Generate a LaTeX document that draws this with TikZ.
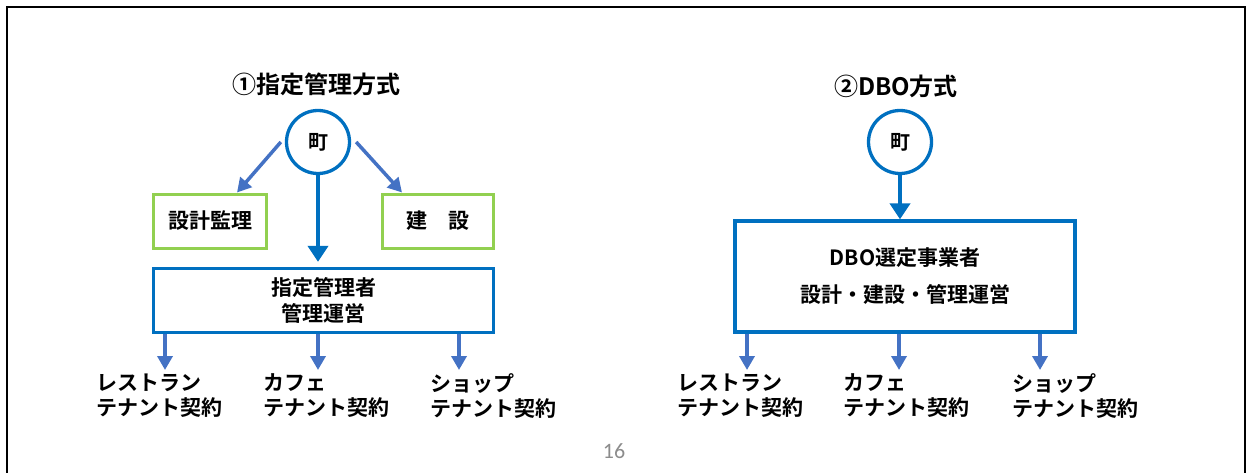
\documentclass[tikz,border=0pt]{standalone}
\usepackage{fontspec}
\setmainfont{Noto Sans CJK JP Bold}
\newfontfamily\pagenofont{Carlito}
\usetikzlibrary{arrows.meta}
\definecolor{townblue}{HTML}{0070C0}
\definecolor{arrowblue}{HTML}{4472C4}
\definecolor{boxgreen}{HTML}{92D050}
\definecolor{pagegray}{HTML}{8C8C8C}
\tikzset{
    town/.style={circle, draw=townblue, line width=3.3pt, minimum size=63pt, inner sep=0pt, font=\fontsize{20}{24}\selectfont},
    workbox/.style={rectangle, draw=boxgreen, line width=3pt, minimum height=54pt, inner sep=0pt, font=\fontsize{21}{25}\selectfont},
    operator/.style={rectangle, draw=townblue, line width=3.3pt, minimum width=340pt, inner sep=0pt, align=center},
    tenant/.style={anchor=west, align=left, inner sep=0pt, font=\fontsize{21}{25}\selectfont},
    heading/.style={inner sep=0pt, font=\fontsize{24}{28}\selectfont},
    mainarrow/.style={draw=townblue, line width=4pt, -{Triangle[width=20pt,length=16pt]}},
    subarrow/.style={draw=arrowblue, line width=3.5pt, -{Triangle[width=15pt,length=14pt]}},
}

\begin{document}
\begin{tikzpicture}[x=1pt, y=-1pt]
    \useasboundingbox (0,0) rectangle (1246,473);
    \draw[line width=2pt] (7,473) -- (7,7) -- (1245,7) -- (1245,473);

    \node[heading] (title1) at (316,84) {①指定管理方式};
    \node[town] (town1) at (318,142) {町};
    \node[workbox, minimum width=113pt] (design) at (210,221) {設計監理};
    \node[workbox, minimum width=111pt] (build) at (438,221) {建　設};
    \node[operator, minimum height=64pt, font=\fontsize{21}{26}\selectfont] (manager) at (323.5,300.5) {指定管理者\\管理運営};
    \node[tenant] (rest1) at (96,396) {レストラン\\テナント契約};
    \node[tenant] (cafe1) at (263,396) {カフェ\\テナント契約};
    \node[tenant] (shop1) at (430,396) {ショップ\\テナント契約};
    \coordinate (tip1) at (165,370);
    \coordinate (tip2) at (318,370);
    \coordinate (tip3) at (459,370);

    \draw[mainarrow, shorten >=5pt] (town1.south) -- (town1.south |- manager.north);
    \draw[subarrow] ([xshift=-4pt]town1.west) -- ([xshift=27pt]design.north);
    \draw[subarrow] ([xshift=5pt]town1.east) -- ([xshift=-36pt]build.north);
    \draw[subarrow] (manager.south -| tip1) -- (tip1);
    \draw[subarrow] (manager.south -| tip2) -- (tip2);
    \draw[subarrow] (manager.south -| tip3) -- (tip3);

    \node[heading] (title2) at (896,86) {②DBO方式};
    \node[town] (town2) at (900,142) {町};
    \node[operator, minimum height=111pt, font=\fontsize{21}{37}\selectfont] (dbo) at (905,276.5) {DBO選定事業者\\設計・建設・管理運営};
    \node[tenant] (rest2) at (677,396) {レストラン\\テナント契約};
    \node[tenant] (cafe2) at (843,396) {カフェ\\テナント契約};
    \node[tenant] (shop2) at (1012,396) {ショップ\\テナント契約};
    \coordinate (tip4) at (747,370);
    \coordinate (tip5) at (899,370);
    \coordinate (tip6) at (1040,370);

    \draw[mainarrow] (town2.south) -- (town2.south |- dbo.north);
    \draw[subarrow] (dbo.south -| tip4) -- (tip4);
    \draw[subarrow] (dbo.south -| tip5) -- (tip5);
    \draw[subarrow] (dbo.south -| tip6) -- (tip6);

    \node[font=\pagenofont\fontsize{22}{26}\selectfont, text=pagegray] (pageno) at (614,451) {16};
\end{tikzpicture}
\end{document}
